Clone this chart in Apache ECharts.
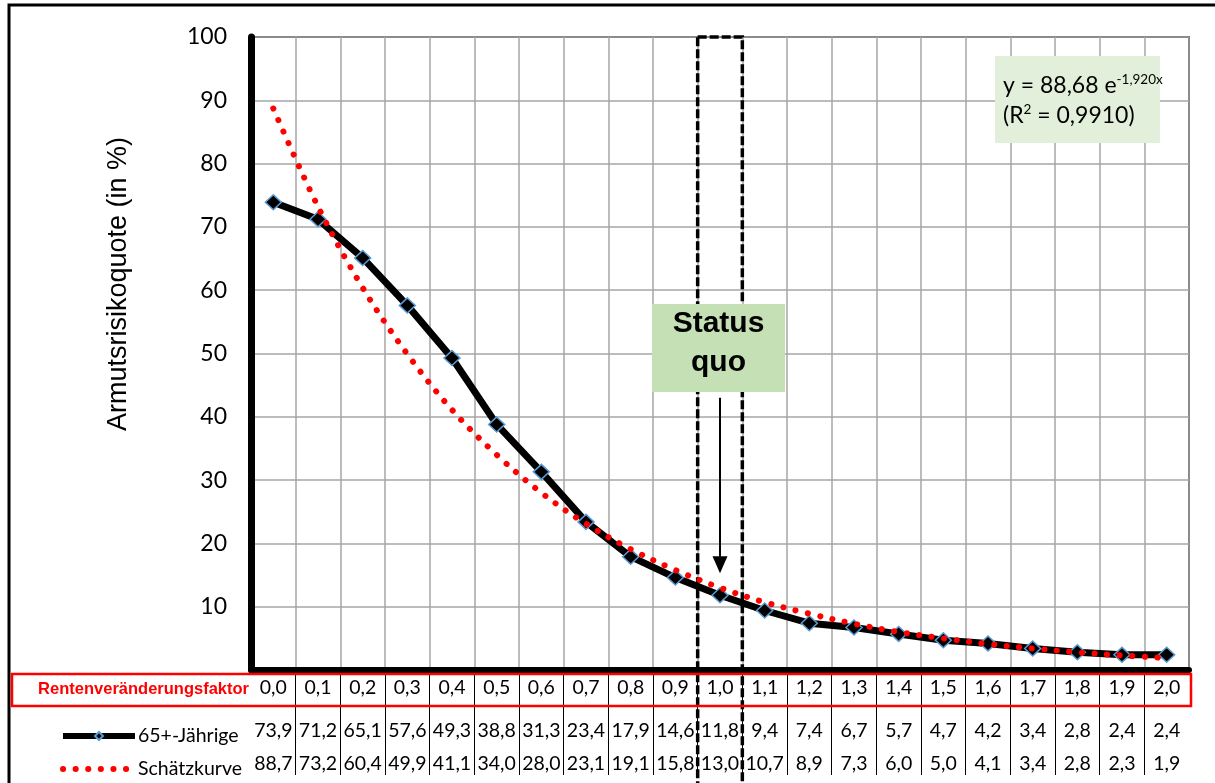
<!DOCTYPE html>
<html><head><meta charset="utf-8">
<script src="https://cdn.jsdelivr.net/npm/echarts@6/dist/echarts.min.js"></script>
<style>html,body{margin:0;padding:0;background:#fff}#c{width:1215px;height:783px}</style>
</head><body><div id="c"></div>
<script>
// ---- data ----
const categories = ['0,0','0,1','0,2','0,3','0,4','0,5','0,6','0,7','0,8','0,9','1,0','1,1','1,2','1,3','1,4','1,5','1,6','1,7','1,8','1,9','2,0'];
const seniors = [73.9,71.2,65.1,57.6,49.3,38.8,31.3,23.4,17.9,14.6,11.8,9.4,7.4,6.7,5.7,4.7,4.2,3.4,2.8,2.4,2.4];
const estimate = [88.7,73.2,60.4,49.9,41.1,34.0,28.0,23.1,19.1,15.8,13.0,10.7,8.9,7.3,6.0,5.0,4.1,3.4,2.8,2.3,1.9];
const yTicks = [0,10,20,30,40,50,60,70,80,90,100];
const statusCategory = '1,0';
const seriesNames = ['65+-Jährige','Schätzkurve'];

const fmt = v => v.toFixed(1).replace('.', ',');
const statusIdx = categories.indexOf(statusCategory);
const numFont = 'Lato';

const chart = echarts.init(document.getElementById('c'), null, {renderer:'canvas'});
const labelBase = {interval:0, fontFamily:numFont, fontSize:19.5, color:'#000'};
const dotStyle = {color:'#ff0000', width:6, type:[0.1,12.5], cap:'round'};

const option = {
  animation:false,
  backgroundColor:'#fff',
  grid:[
    {left:251, right:26, top:37, bottom:113, show:true, borderColor:'#000', borderWidth:1.5, backgroundColor:'transparent'},
    {left:251, right:26, top:673, bottom:8}
  ],
  xAxis:[
    {type:'category', gridIndex:0, position:'bottom', data:categories, boundaryGap:true,
     axisLine:{show:true, lineStyle:{color:'#000', width:6}}, axisTick:{show:false},
     axisLabel:Object.assign({margin:8}, labelBase),
     splitLine:{show:true, interval:0, lineStyle:{color:'#a6a6a6', width:1.5}}},
    {type:'category', gridIndex:0, position:'bottom', data:categories, boundaryGap:true,
     axisLine:{show:false}, axisTick:{show:false}, splitLine:{show:false},
     axisLabel:Object.assign({margin:51, formatter:(v,i)=>fmt(seniors[i])}, labelBase)},
    {type:'category', gridIndex:0, position:'bottom', data:categories, boundaryGap:true,
     axisLine:{show:false}, axisTick:{show:false}, splitLine:{show:false},
     axisLabel:Object.assign({margin:84, formatter:(v,i)=>fmt(estimate[i])}, labelBase)},
    {type:'category', gridIndex:1, data:categories, boundaryGap:true,
     axisLine:{show:false}, axisTick:{show:false}, axisLabel:{show:false},
     splitLine:{show:true, interval:0, showMinLine:false, showMaxLine:false, lineStyle:{color:'#000', width:1}}}
  ],
  yAxis:[
    {type:'value', gridIndex:0, min:yTicks[0], max:yTicks[yTicks.length-1], interval:yTicks[1]-yTicks[0],
     axisLine:{show:true, lineStyle:{color:'#000', width:7}}, axisTick:{show:false},
     axisLabel:{formatter:v => v === 0 ? '' : String(v), fontFamily:numFont, fontSize:23, color:'#000', margin:24},
     splitLine:{show:true, lineStyle:{color:'#a6a6a6', width:1.5}}},
    {type:'value', gridIndex:1, min:0, max:1, show:false}
  ],
  legend:[
    {data:[seriesNames[0]], left:60, top:726, padding:0, itemWidth:72, itemHeight:10, selectedMode:false,
     textStyle:{fontFamily:numFont, fontSize:19.5, color:'#000', padding:[0,0,0,-2]},
     lineStyle:{color:'#000', width:6}},
    {data:[seriesNames[1]], left:60, top:759, padding:0, itemWidth:72, itemHeight:10, selectedMode:false,
     textStyle:{fontFamily:numFont, fontSize:19.5, color:'#000', padding:[0,0,0,-2]},
     itemStyle:{opacity:0}, lineStyle:dotStyle}
  ],
  series:[
    {type:'custom', xAxisIndex:0, yAxisIndex:0, z:1, silent:true, data:[[statusIdx, 100]],
     renderItem:(params, api) => {
       const idx = api.value(0);
       const top = api.coord([idx, 100]);
       const w = api.size([1, 0])[0];
       const a0 = api.coord([idx, 43]);
       const a1 = api.coord([idx, 15.3]);
       return {type:'group', children:[
         {type:'rect', shape:{x:top[0]-w/2, y:top[1], width:w, height:800},
          style:{fill:'none', stroke:'#000', lineWidth:3.5, lineDash:[9,3], opacity:1}},
         {type:'line', shape:{x1:a0[0], y1:a0[1], x2:a1[0], y2:a1[1]-14},
          style:{stroke:'#000', lineWidth:2}},
         {type:'polygon', shape:{points:[[a1[0]-7.5, a1[1]-17],[a1[0]+7.5, a1[1]-17],[a1[0], a1[1]]]},
          style:{fill:'#000'}}
       ]};
     }},
    {name:seriesNames[0], type:'line', xAxisIndex:0, yAxisIndex:0, data:seniors, z:3,
     symbol:'diamond', symbolSize:[16,15], showSymbol:true,
     lineStyle:{color:'#000', width:7},
     itemStyle:{color:'#000', borderColor:'#5b9bd5', borderWidth:1.5}},
    {name:seriesNames[1], type:'line', xAxisIndex:0, yAxisIndex:0, data:estimate, z:4,
     smooth:0.35, symbol:'none', showSymbol:false,
     lineStyle:dotStyle,
     itemStyle:{color:'#ff0000'}}
  ],
  graphic:[
    {type:'rect', z:0, silent:true, shape:{x:9, y:5, width:1400, height:1000},
     style:{fill:'none', stroke:'#000', lineWidth:3}},
    {type:'rect', z:10, silent:true, shape:{x:12, y:674, width:1179, height:32},
     style:{fill:'none', stroke:'#ff0000', lineWidth:2.5}},
    {type:'text', z:10, silent:true, x:249, y:689,
     style:{text:'Rentenveränderungsfaktor', font:'bold 16.5px "Liberation Sans", Arial, sans-serif', fill:'#ff0000',
            align:'right', textAlign:'right', verticalAlign:'middle', textVerticalAlign:'middle'}},
    {type:'text', z:10, silent:true, x:119, y:284, rotation:Math.PI/2,
     style:{text:'Armutsrisikoquote (in %)', font:'27px "Liberation Sans", Arial, sans-serif', fill:'#000',
            align:'center', textAlign:'center', verticalAlign:'middle', textVerticalAlign:'middle'}},
    {type:'rect', z:10, silent:true, shape:{x:652, y:304, width:133, height:88}, style:{fill:'#c5e0b4'}},
    {type:'text', z:11, silent:true, x:718.5, y:343,
     style:{text:'Status\nquo', font:'bold 30px "Liberation Sans", Arial, sans-serif', fill:'#000', lineHeight:39,
            align:'center', textAlign:'center', verticalAlign:'middle', textVerticalAlign:'middle'}},
    {type:'rect', z:10, silent:true, shape:{x:995, y:56, width:165, height:87}, style:{fill:'#e2efda'}},
    {type:'text', z:11, silent:true, x:1003, y:101,
     style:{text:'{n|y = 88,68 e}{s|-1,920x}\n{n|(R}{s|2}{n| = 0,9910)}', fill:'#000',
            align:'left', textAlign:'left', verticalAlign:'middle', textVerticalAlign:'middle',
            rich:{n:{fontFamily:numFont, fontSize:23, color:'#000', lineHeight:30, verticalAlign:'middle'},
                  s:{fontFamily:numFont, fontSize:13.5, color:'#000', lineHeight:30, verticalAlign:'top', padding:[2,0,0,0]}}}}
  ]
};
chart.setOption(option);
</script>
</body></html>
